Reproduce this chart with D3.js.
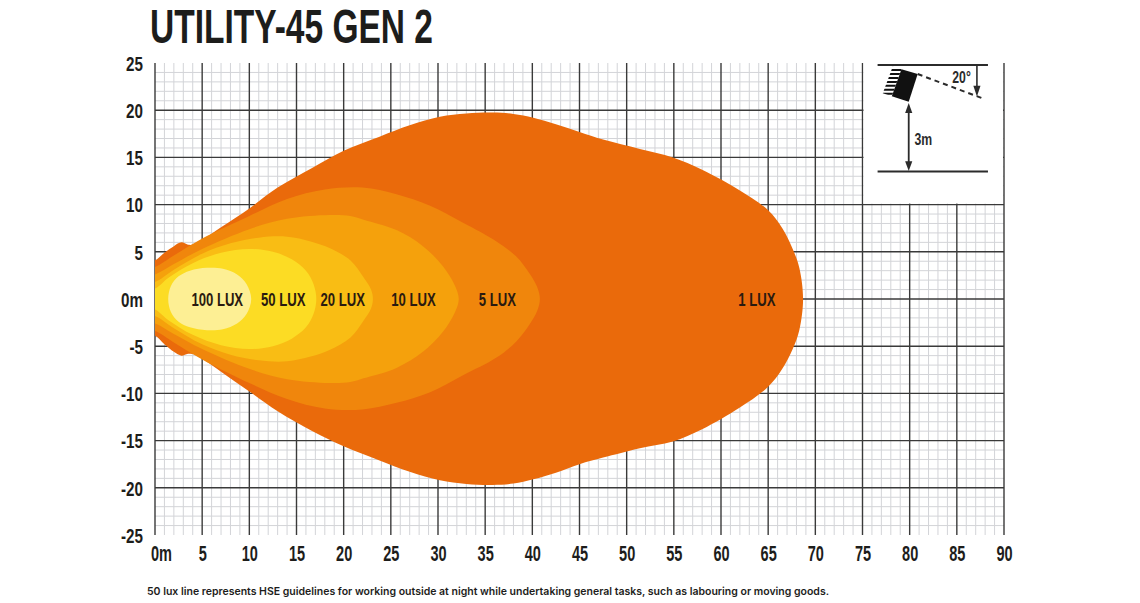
<!DOCTYPE html>
<html><head><meta charset="utf-8">
<script src="https://cdn.jsdelivr.net/npm/d3@7"></script>
<style>body{margin:0;background:#fff}svg{display:block}</style>
</head><body>
<svg id="chart" width="1140" height="603"></svg>
<script>
// ---------- data ----------
const titleText = "UTILITY-45 GEN 2";
const footnoteText = "50 lux line represents HSE guidelines for working outside at night while undertaking general tasks, such as labouring or moving goods.";
const xTickValues = [0,5,10,15,20,25,30,35,40,45,50,55,60,65,70,75,80,85,90];
const xTickLabels = ["0m","5","10","15","20","25","30","35","40","45","50","55","60","65","70","75","80","85","90"];
const yTickValues = [25,20,15,10,5,0,-5,-10,-15,-20,-25];
const yTickLabels = ["25","20","15","10","5","0m","-5","-10","-15","-20","-25"];
const luxNames = ["1 LUX","5 LUX","10 LUX","20 LUX","50 LUX","100 LUX"];
const luxColors = ["#EA6A0B","#F0860C","#F5A10C","#F9BD14","#FCDC24","#FDEF94"];
const luxLabelX = [63.8, 36.3, 27.4, 19.9, 13.6, 6.6];

// contour outlines [distance m, lateral m]
const contour1 = [[-1,4.0],[0,4.1],[1,4.9],[2,5.6],[2.8,6.0],[3.5,5.75],[4.2,5.8],[5,6.25],[7,7.6],[10,9.6],[13,11.8],[16.7,13.9],[20,15.7],[23.8,17.2],[27,18.4],[30.2,19.3],[33,19.65],[35.8,19.75],[38,19.6],[40.1,19.2],[42.5,18.5],[45,17.7],[47.5,16.9],[51.4,15.9],[54.9,15.0],[58,13.7],[62,11.5],[65,9.4],[66.5,7.5],[67.6,5.3],[68.3,3.3],[68.7,0],
  [68.3,-3.3],[67.6,-5.3],[66.5,-7.4],[65,-9.3],[62,-11.5],[58,-13.8],[54.9,-15.1],[51.4,-15.8],[47.5,-16.8],[45,-17.5],[42.5,-18.4],[40.1,-19.1],[38,-19.55],[35.8,-19.7],[33,-19.6],[30.2,-19.2],[27,-18.3],[23.8,-17.1],[20,-15.6],[16.7,-14.0],[13,-11.9],[10,-9.8],[7,-7.7],[5,-6.3],[4.2,-5.85],[3.5,-5.8],[2.8,-6.0],[2,-5.6],[1,-4.8],[0,-3.9],[-1,-3.8]];
const contour5 = [[-1,3.3],[0,3.4],[2,4.6],[5,6.4],[10,8.8],[14,10.6],[18,11.6],[22,11.8],[25.6,11.1],[29.1,9.9],[32.6,8.1],[36.2,6.1],[38.3,4.5],[39.7,2.7],[40.5,1.3],[40.8,0],
  [40.5,-1.3],[39.7,-2.7],[38.3,-4.5],[36.2,-6.2],[32.6,-8.1],[29.1,-9.9],[25.6,-11.0],[22,-11.7],[18,-11.6],[14,-10.6],[10,-8.9],[5,-6.4],[2,-4.6],[0,-3.4],[-1,-3.3]];
const contour10 = [[-1,2.5],[0,2.6],[2,3.7],[5,5.3],[10,7.4],[14,8.5],[18.5,8.9],[20.7,8.8],[22.1,8.4],[25.6,7.3],[28.4,5.6],[30.5,3.5],[31.8,1.4],[32.2,0],
  [31.8,-1.4],[30.5,-3.5],[28.4,-5.6],[25.6,-7.3],[22.1,-8.4],[20.7,-8.8],[18.5,-8.9],[14,-8.5],[10,-7.4],[5,-5.3],[2,-3.7],[0,-2.6],[-1,-2.5]];
const contour20 = [[-1,1.7],[0,1.8],[2,3.1],[5,4.8],[8,5.9],[11,6.5],[14,6.6],[16.5,6.1],[18.5,5.4],[20.7,4.1],[22.1,2.3],[22.9,1.0],[23.1,0],
  [22.9,-1.0],[22.1,-2.3],[20.7,-4.1],[18.5,-5.4],[16.5,-6.1],[14,-6.6],[11,-6.5],[8,-5.9],[5,-4.8],[2,-3.1],[0,-1.8],[-1,-1.7]];
const contour50 = [[-1,1.0],[0,1.1],[1.5,2.3],[4,3.8],[7,4.9],[10,5.3],[12.5,5.0],[14.5,4.2],[16,3.0],[16.8,1.6],[17.1,0],
  [16.8,-1.6],[16,-3.0],[14.5,-4.2],[12.5,-5.0],[10,-5.3],[7,-4.9],[4,-3.8],[1.5,-2.3],[0,-1.1],[-1,-1.0]];
const contour100 = [[1.4,0],[1.7,1.4],[2.5,2.4],[3.7,3.0],[5.5,3.3],[7.2,3.2],[8.7,2.6],[9.7,1.6],[10.2,0],
  [9.7,-1.6],[8.7,-2.6],[7.2,-3.2],[5.5,-3.3],[3.7,-3.0],[2.5,-2.4],[1.7,-1.4]];
const contours = [contour1, contour5, contour10, contour20, contour50, contour100];

// ---------- layout ----------
const svg = d3.select("#chart");
const x = d3.scaleLinear().domain([0,90]).range([155,1004]);
const y = d3.scaleLinear().domain([-25,25]).range([535,63]);
const NARROW = "'Liberation Sans Narrow','Arial Narrow','Liberation Sans',sans-serif";

function squeeze(sel, f){ sel.each(function(){ const L=this.getComputedTextLength(); d3.select(this).attr("textLength", L*f).attr("lengthAdjust","spacingAndGlyphs"); }); }

// grid
const grid = svg.append("g");
grid.selectAll(".vmin").data(d3.range(0,91)).join("line")
  .attr("x1",d=>x(d)).attr("x2",d=>x(d)).attr("y1",y(25)).attr("y2",y(-25))
  .attr("stroke",d=>d%5===0?"none":"#d3d4d8").attr("stroke-width",1);
grid.selectAll(".hmin").data(d3.range(-24,25)).join("line")
  .attr("x1",x(0)).attr("x2",x(90)).attr("y1",d=>y(d)).attr("y2",d=>y(d))
  .attr("stroke",d=>d%5===0?"none":"#d3d4d8").attr("stroke-width",1);
grid.selectAll(".hmaj").data(d3.range(-20,21,5)).join("line")
  .attr("x1",x(0)).attr("x2",x(90)).attr("y1",d=>y(d)).attr("y2",d=>y(d))
  .attr("stroke","#3a3a3a").attr("stroke-width",1.4);
grid.selectAll(".vmaj").data(d3.range(0,91,5)).join("line")
  .attr("x1",d=>x(d)).attr("x2",d=>x(d)).attr("y1",y(25)).attr("y2",y(-25))
  .attr("stroke","#3a3a3a").attr("stroke-width",1.4);

// inset white box
svg.append("rect").attr("x",x(75)+1).attr("y",y(25)-1).attr("width",x(90)-x(75)-2).attr("height",y(10)-y(25))
  .attr("fill","#fff");

// contours
svg.append("clipPath").attr("id","plotclip").append("rect")
  .attr("x",x(0)).attr("y",y(25)).attr("width",x(90)-x(0)).attr("height",y(-25)-y(25));
const line = d3.line().x(d=>x(d[0])).y(d=>y(d[1])).curve(d3.curveCatmullRomClosed.alpha(0.5));
svg.append("g").attr("clip-path","url(#plotclip)")
  .selectAll("path").data(contours).join("path")
  .attr("d",line).attr("fill",(d,i)=>luxColors[i]);

// lux labels
const lab = svg.append("g").selectAll("text").data(luxNames).join("text")
  .attr("x",(d,i)=>x(luxLabelX[i])).attr("y",y(0)).attr("dy","0.36em")
  .attr("text-anchor","middle").attr("font-family",NARROW).attr("font-weight","bold")
  .attr("font-size",19).attr("fill","#2a1a10").text(d=>d);
squeeze(lab, 0.69);

// axes
const xAxis = svg.append("g").attr("transform",`translate(0,${y(-25)})`)
  .call(d3.axisBottom(x).tickValues(xTickValues).tickFormat((d,i)=>xTickLabels[i]).tickSize(0));
xAxis.select(".domain").remove();
xAxis.selectAll("text").attr("y",18.5).attr("dy","0.36em").attr("font-family",NARROW).attr("font-weight","bold")
  .attr("font-size",22).attr("fill","#1d1d1b").attr("dx",(d,i)=>i===0?6:0);
squeeze(xAxis.selectAll("text"), 0.66);
const yAxis = svg.append("g").attr("transform",`translate(${x(0)},0)`)
  .call(d3.axisLeft(y).tickValues(yTickValues).tickFormat((d,i)=>yTickLabels[i]).tickSize(0).tickPadding(12));
yAxis.select(".domain").remove();
yAxis.selectAll("text").attr("dy","0.36em").attr("font-family",NARROW).attr("font-weight","bold")
  .attr("font-size",20).attr("fill","#1d1d1b");
squeeze(yAxis.selectAll("text"), 0.76);

// title
svg.append("text").attr("x",150).attr("y",43).attr("font-family",NARROW).attr("font-weight","bold")
  .attr("font-size",48).attr("fill","#1d1d1b").attr("textLength",283).attr("lengthAdjust","spacingAndGlyphs")
  .text(titleText);

// footnote
svg.append("text").attr("x",147).attr("y",595).attr("font-family","Inter, 'Open Sans', sans-serif").attr("font-weight",600)
  .attr("font-size",10.5).attr("fill","#1d1d1b").attr("textLength",682).attr("lengthAdjust","spacingAndGlyphs")
  .text(footnoteText);

// ---------- inset diagram (mounting: 20° tilt, 3m) ----------
const ins = svg.append("g").attr("stroke-linecap","butt");
const ink = "#2b2b2b";
ins.append("line").attr("x1",x(76.6)).attr("x2",x(88.3)).attr("y1",y(24.8)).attr("y2",y(24.8)).attr("stroke",ink).attr("stroke-width",2);
ins.append("line").attr("x1",x(76.6)).attr("x2",x(88.3)).attr("y1",y(13.5)).attr("y2",y(13.5)).attr("stroke",ink).attr("stroke-width",2);
const P = pts => pts.map(p=>[x(p[0]),y(p[1])].join(",")).join(" ");
const lampBack = [[78.2,24.6],[79.13,24.33],[78.11,21.49],[77.15,21.8]];
const lampFront = [[79.13,24.33],[80.85,23.83],[79.9,20.9],[78.11,21.49]];
ins.append("clipPath").attr("id","lampclip").append("polygon").attr("points",P(lampBack));
const hatch = ins.append("g").attr("clip-path","url(#lampclip)");
hatch.selectAll("line").data(d3.range(20.9,25,0.42)).join("line")
  .attr("x1",x(76.8)).attr("x2",x(79.5)).attr("y1",d=>y(d)).attr("y2",d=>y(d))
  .attr("stroke","#111").attr("stroke-width",2);
ins.append("polygon").attr("points",P(lampFront)).attr("fill","#111");
ins.append("line").attr("x1",x(80.85)).attr("y1",y(23.83)).attr("x2",x(87.6)).attr("y2",y(21.3))
  .attr("stroke",ink).attr("stroke-width",2).attr("stroke-dasharray","5,4");
// angle arrow
ins.append("line").attr("x1",x(87.13)).attr("x2",x(87.13)).attr("y1",y(24.8)).attr("y2",y(22.4)).attr("stroke",ink).attr("stroke-width",1.6);
ins.append("polygon").attr("points",P([[86.75,22.6],[87.51,22.6],[87.13,21.45]])).attr("fill",ink);
const t20 = ins.append("text").attr("x",x(85.5)).attr("y",y(23.5)).attr("dy","0.36em").attr("text-anchor","middle")
  .attr("font-family",NARROW).attr("font-weight","bold").attr("font-size",17).attr("fill",ink).text("20°");
squeeze(t20, 0.72);
// height arrow
ins.append("line").attr("x1",x(79.9)).attr("x2",x(79.9)).attr("y1",y(19.9)).attr("y2",y(14.4)).attr("stroke",ink).attr("stroke-width",1.8);
ins.append("polygon").attr("points",P([[79.52,19.7],[80.28,19.7],[79.9,20.76]])).attr("fill",ink);
ins.append("polygon").attr("points",P([[79.52,14.6],[80.28,14.6],[79.9,13.55]])).attr("fill",ink);
const t3 = ins.append("text").attr("x",x(80.5)).attr("y",y(16.95)).attr("dy","0.36em")
  .attr("font-family",NARROW).attr("font-weight","bold").attr("font-size",17).attr("fill",ink).text("3m");
squeeze(t3, 0.72);
</script>
</body></html>
